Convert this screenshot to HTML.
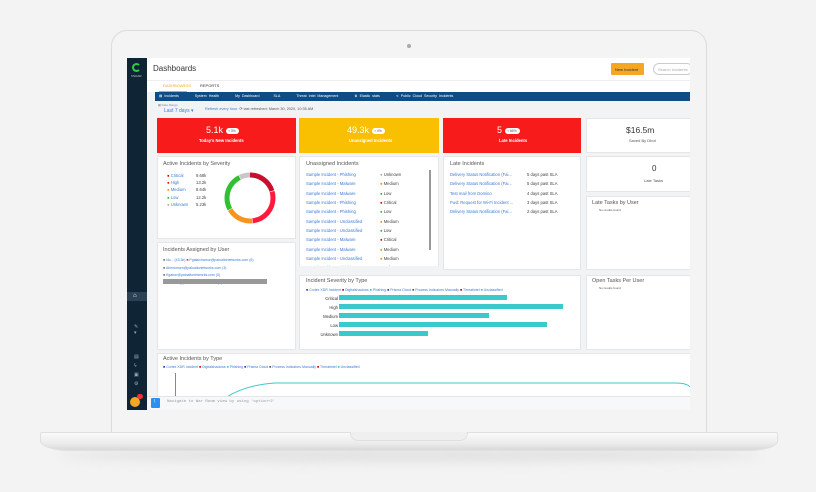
<!DOCTYPE html>
<html><head><meta charset="utf-8"><style>
*{margin:0;padding:0;box-sizing:border-box}
body{width:816px;height:492px;background:#f3f3f3;position:relative;overflow:hidden;font-family:"Liberation Sans",sans-serif}
.a{position:absolute}
.t{position:absolute;white-space:nowrap}
.card{position:absolute;background:#fff;border:1px solid #e6e6e6}
.h{font-size:5.5px;color:#555}
.lk{color:#3a7bd5}
.s{font-size:4.2px}
</style></head><body>
<!-- base shadow -->
<div class="a" style="left:60px;top:448px;width:700px;height:14px;border-radius:50%;background:#e2e2e2;filter:blur(5px)"></div>
<!-- lid -->
<div class="a" style="left:111px;top:30px;width:596px;height:406px;background:#f4f4f4;border:1px solid #dcdcdc;border-radius:16px 16px 0 0"></div>
<div class="a" style="left:407px;top:44px;width:4px;height:4px;border-radius:50%;background:#aaa"></div>
<!-- base -->
<div class="a" style="left:40px;top:432px;width:738px;height:19px;background:linear-gradient(#fafafa,#ececec 60%,#d9d9d9);border-radius:2px 2px 30px 30px/2px 2px 10px 10px;border:1px solid #e0e0e0"></div>
<div class="a" style="left:350px;top:432px;width:118px;height:9px;background:#efefef;border:1px solid #e0e0e0;border-top:none;border-radius:0 0 8px 8px"></div>
<!-- screen -->
<div class="a" style="left:127px;top:58px;width:563px;height:352px;background:#f2f3f5;overflow:hidden">
 <div class="a" style="left:0;top:0;width:20px;height:352px;background:#0f2535"></div>
 <div class="a" style="left:5px;top:5px;width:9px;height:9px;border:2px solid #2ecc40;border-radius:50%;border-right-color:transparent"></div>
 <div class="t" style="left:4px;top:16px;font-size:3px;color:#ccc">XSOAR</div>
 <div class="a" style="left:0;top:234px;width:20px;height:9px;background:#2a4254"></div>
 <div class="t" style="left:6px;top:235px;font-size:6px;color:#fff">⌂</div>
 <div class="t" style="left:7px;top:266px;font-size:5px;color:#9ab">✎<br>▾</div>
 <div class="t" style="left:7px;top:295px;font-size:5px;color:#9ab;line-height:9px">▤<br>ϟ<br>▣<br>⚙</div>
 <div class="a" style="left:3px;top:339px;width:10px;height:10px;border-radius:50%;background:#f5a623"></div>
 <div class="a" style="left:10px;top:336px;width:6px;height:5px;border-radius:3px;background:#e33"></div>
 <!-- header -->
 <div class="a" style="left:20px;top:0;width:543px;height:22px;background:#fff"></div>
 <div class="t" style="left:26px;top:6px;font-size:8px;color:#333">Dashboards</div>
 <div class="a" style="left:484px;top:5px;width:33px;height:12px;background:#f5a623;border-radius:1px"></div>
 <div class="t" style="left:488px;top:9px;font-size:4px;color:#333">New Incident</div>
 <div class="a" style="left:526px;top:5px;width:40px;height:12px;border:1px solid #ccc;border-radius:6px;background:#fff"></div>
 <div class="t" style="left:531px;top:9px;font-size:4px;color:#aaa">Search incidents</div>
 <div class="a" style="left:20px;top:22px;width:543px;height:12px;background:#fff;border-top:1px solid #eee"></div>
 <div class="t" style="left:36px;top:25px;font-size:4px;color:#f5a623">DASHBOARDS</div>
 <div class="a" style="left:32px;top:33px;width:28px;height:1px;background:#f5a623"></div>
 <div class="t" style="left:73px;top:25px;font-size:4px;color:#333">REPORTS</div>
 <div class="a" style="left:28px;top:34px;width:535px;height:9px;background:#0d4c86"></div>
 <div class="t" style="left:32px;top:36px;font-size:3.6px;color:#fff;word-spacing:1px">▤ Incidents&nbsp;&nbsp;&nbsp;&nbsp;&nbsp;&nbsp;&nbsp;&nbsp;System Health&nbsp;&nbsp;&nbsp;&nbsp;&nbsp;&nbsp;&nbsp;&nbsp;My Dashboard&nbsp;&nbsp;&nbsp;&nbsp;&nbsp;&nbsp;&nbsp;SLA&nbsp;&nbsp;&nbsp;&nbsp;&nbsp;&nbsp;&nbsp;&nbsp;Threat Intel Management&nbsp;&nbsp;&nbsp;&nbsp;&nbsp;&nbsp;&nbsp;&nbsp;♛ Elastic stats&nbsp;&nbsp;&nbsp;&nbsp;&nbsp;&nbsp;&nbsp;&nbsp;≺ Public Cloud Security Incidents</div>
 <div class="t" style="left:31px;top:45px;font-size:3px;color:#888">▦ Date Range</div>
 <div class="t" style="left:37px;top:50px;font-size:5px;color:#3a7bd5">Last 7 days ▾</div>
 <div class="t" style="left:78px;top:48px;font-size:3.8px;color:#3a7bd5">Refresh every hour&nbsp;&nbsp;<span style="color:#555">⟳ last refreshed: March 30, 2020, 10:35 AM</span></div>
 <!-- KPIs -->
 <div class="a" style="left:30px;top:60px;width:139px;height:35px;background:#f71b1b"></div>
 <div class="t" style="left:79px;top:67px;font-size:9px;color:#fff">5.1k <span style="font-size:3.5px;background:#fff;color:#555;border-radius:3px;padding:1px 3px;vertical-align:middle">▪ 3%</span></div>
 <div class="t" style="left:72px;top:80px;font-size:4.2px;color:#fff;font-weight:bold">Today's New Incidents</div>
 <div class="a" style="left:172px;top:60px;width:140px;height:35px;background:#f8c000"></div>
 <div class="t" style="left:220px;top:67px;font-size:9px;color:#fff">49.3k <span style="font-size:3.5px;background:#fff;color:#555;border-radius:3px;padding:1px 3px;vertical-align:middle">▪ 4%</span></div>
 <div class="t" style="left:222px;top:80px;font-size:4.2px;color:#fff;font-weight:bold">Unassigned Incidents</div>
 <div class="a" style="left:316px;top:60px;width:138px;height:35px;background:#f71b1b"></div>
 <div class="t" style="left:370px;top:67px;font-size:9px;color:#fff">5 <span style="font-size:3.5px;background:#fff;color:#555;border-radius:3px;padding:1px 3px;vertical-align:middle">▪ 66%</span></div>
 <div class="t" style="left:372px;top:80px;font-size:4.2px;color:#fff;font-weight:bold">Late Incidents</div>
 <div class="card" style="left:459px;top:60px;width:110px;height:35px"></div>
 <div class="t" style="left:499px;top:67px;font-size:8.5px;color:#333">$16.5m</div>
 <div class="t" style="left:502px;top:80px;font-size:4px;color:#555">Saved By Dbot</div>
 <!-- severity donut -->
 <div class="card" style="left:30px;top:98px;width:139px;height:83px"></div>
 <div class="t h" style="left:36px;top:103px">Active Incidents by Severity</div>
 <div class="t s" style="left:40px;top:114px;line-height:7.2px;color:#3a7bd5"><span style="color:#c00">●</span> Critical<br><span style="color:#e00">●</span> High<br><span style="color:#f80">●</span> Medium<br><span style="color:#2b2">●</span> Low<br><span style="color:#aaa">●</span> Unknown</div>
 <div class="t s" style="left:69px;top:114px;line-height:7.2px;color:#444">9.68k<br>13.2k<br>8.64k<br>12.2k<br>5.23k</div>
 <svg class="a" style="left:95px;top:112px" width="56" height="56" viewBox="0 0 56 56">
  <g fill="none" stroke-width="5" transform="rotate(-90 28 28)">
  <circle cx="28" cy="28" r="23" stroke="#c8102e" stroke-dasharray="29 200"/>
  <circle cx="28" cy="28" r="23" stroke="#ff1a3c" stroke-dasharray="0 29.5 40 200"/>
  <circle cx="28" cy="28" r="23" stroke="#f7941d" stroke-dasharray="0 70 26 200"/>
  <circle cx="28" cy="28" r="23" stroke="#2fc12f" stroke-dasharray="0 96.5 37 200"/>
  <circle cx="28" cy="28" r="23" stroke="#c8c8c8" stroke-dasharray="0 134 11 200"/></g></svg>
 <!-- assigned by user -->
 <div class="card" style="left:30px;top:184px;width:139px;height:108px"></div>
 <div class="t h" style="left:36px;top:189px">Incidents Assigned by User</div>
 <div class="t" style="left:36px;top:199px;font-size:3.5px;line-height:7.5px;color:#3a7bd5"><span style="color:#777">■</span> No... (43.3k) <span style="color:#e33">■</span> Pgalaichamur@paloaltonetworks.com (6)<br><span style="color:#777">■</span> Abirnkmurn@paloaltonetworks.com (3)<br><span style="color:#777">■</span> Kgabor@paloaltonetworks.com (3)<br><span style="color:#2a2">■</span> Mmichal@paloaltonetworks.com (3)</div>
 <div class="a" style="left:36px;top:221px;width:104px;height:5px;background:#999"></div>
 <!-- unassigned -->
 <div class="card" style="left:172px;top:98px;width:140px;height:114px;overflow:hidden"></div>
 <div class="t h" style="left:179px;top:103px">Unassigned Incidents</div>
 <div class="t" style="left:179px;top:112px;font-size:4.2px;line-height:9.35px;color:#3a7bd5">Sample Incident - Phishing<br>Sample Incident - Malware<br>Sample Incident - Malware<br>Sample Incident - Phishing<br>Sample Incident - Phishing<br>Sample Incident - Unclassified<br>Sample Incident - Unclassified<br>Sample Incident - Malware<br>Sample Incident - Malware<br>Sample Incident - Unclassified<br>Sample Incident - Phishing</div>
 <div class="t" style="left:253px;top:112px;font-size:4.2px;line-height:9.35px;color:#444"><span style="color:#aaa">●</span> Unknown<br><span style="color:#f80">●</span> Medium<br><span style="color:#2b2">●</span> Low<br><span style="color:#c00">●</span> Critical<br><span style="color:#2b2">●</span> Low<br><span style="color:#f80">●</span> Medium<br><span style="color:#2b2">●</span> Low<br><span style="color:#c00">●</span> Critical<br><span style="color:#f80">●</span> Medium<br><span style="color:#f80">●</span> Medium<br>● Unknown</div>
 <div class="a" style="left:302px;top:112px;width:1.5px;height:80px;background:#999"></div>
 <div class="a" style="left:172px;top:208px;width:140px;height:5px;background:#f2f3f5"></div>
 <!-- late -->
 <div class="card" style="left:316px;top:98px;width:138px;height:114px"></div>
 <div class="t h" style="left:323px;top:103px">Late Incidents</div>
 <div class="t" style="left:323px;top:112px;font-size:4.2px;line-height:9.35px;color:#3a7bd5">Delivery Status Notification (Fai...<br>Delivery Status Notification (Fai...<br>Test mail from Domino<br>Fwd: Request for Wi-Fi Incident ...<br>Delivery Status Notification (Fai...</div>
 <div class="t" style="left:400px;top:112px;font-size:4.2px;line-height:9.35px;color:#444">5 days past SLA<br>5 days past SLA<br>4 days past SLA<br>3 days past SLA<br>2 days past SLA</div>
 <!-- right column -->
 <div class="card" style="left:459px;top:98px;width:110px;height:36px"></div>
 <div class="t" style="left:525px;top:106px;font-size:8px;color:#333">0</div>
 <div class="t" style="left:517px;top:120px;font-size:4px;color:#555">Late Tasks</div>
 <div class="card" style="left:459px;top:138px;width:110px;height:74px"></div>
 <div class="t h" style="left:465px;top:142px">Late Tasks by User</div>
 <div class="t" style="left:472px;top:150px;font-size:3px;color:#555">No results found</div>
 <div class="card" style="left:459px;top:217px;width:110px;height:75px"></div>
 <div class="t h" style="left:465px;top:220px">Open Tasks Per User</div>
 <div class="t" style="left:472px;top:228px;font-size:3px;color:#555">No results found</div>
 <!-- severity by type -->
 <div class="card" style="left:172px;top:217px;width:282px;height:75px"></div>
 <div class="t h" style="left:179px;top:220px">Incident Severity by Type</div>
 <div class="t" style="left:179px;top:230px;font-size:3.5px;color:#3a7bd5"><span style="color:#33c">■</span> Cortex XDR Incident <span style="color:#c00">■</span> Digitalshadows <span style="color:#3cc">■</span> Phishing <span style="color:#33c">■</span> Prisma Cloud <span style="color:#555">■</span> Process Indicators Manually <span style="color:#c00">■</span> Threatintel <span style="color:#3cc">■</span> Unclassified</div>
 <div class="t" style="left:183px;top:236px;width:28px;text-align:right;font-size:4.2px;line-height:9px;color:#333">Critical<br>High<br>Medium<br>Low<br>Unknown</div>
 <div class="a" style="left:212px;top:237px;width:168px;height:5px;background:#3cc9cc"></div>
 <div class="a" style="left:212px;top:246px;width:224px;height:5px;background:#3cc9cc"></div>
 <div class="a" style="left:212px;top:255px;width:150px;height:5px;background:#3cc9cc"></div>
 <div class="a" style="left:212px;top:264px;width:208px;height:5px;background:#3cc9cc"></div>
 <div class="a" style="left:212px;top:273px;width:89px;height:5px;background:#3cc9cc"></div>
 <!-- active by type -->
 <div class="card" style="left:30px;top:295px;width:540px;height:45px"></div>
 <div class="t h" style="left:36px;top:298px">Active Incidents by Type</div>
 <div class="t" style="left:36px;top:307px;font-size:3.5px;color:#3a7bd5"><span style="color:#33c">■</span> Cortex XDR Incident <span style="color:#c00">■</span> Digitalshadows <span style="color:#3cc">■</span> Phishing <span style="color:#33c">■</span> Prisma Cloud <span style="color:#555">■</span> Process Indicators Manually <span style="color:#c00">■</span> Threatintel <span style="color:#3cc">■</span> Unclassified</div>
 <div class="a" style="left:48px;top:315px;width:1px;height:25px;background:#888"></div>
 <svg class="a" style="left:48px;top:315px" width="515" height="25"><path d="M50 25 Q70 12 100 10 L500 10 Q512 10 515 14" fill="none" stroke="#3cc9cc" stroke-width="1"/></svg>
 <!-- input -->
 <div class="a" style="left:20px;top:338px;width:543px;height:14px;background:#f7f8fa;border-top:1px solid #e5e5e5"></div>
 <div class="a" style="left:24px;top:340px;width:9px;height:10px;background:#2b8ef0;border-radius:1px"></div>
 <div class="t" style="left:27px;top:341px;font-size:5px;color:#fff">!</div>
 <div class="t" style="left:40px;top:342px;font-size:4px;color:#999;font-family:'Liberation Mono',monospace">Navigate to War Room view by using 'option+2'</div>
</div>
</body></html>
